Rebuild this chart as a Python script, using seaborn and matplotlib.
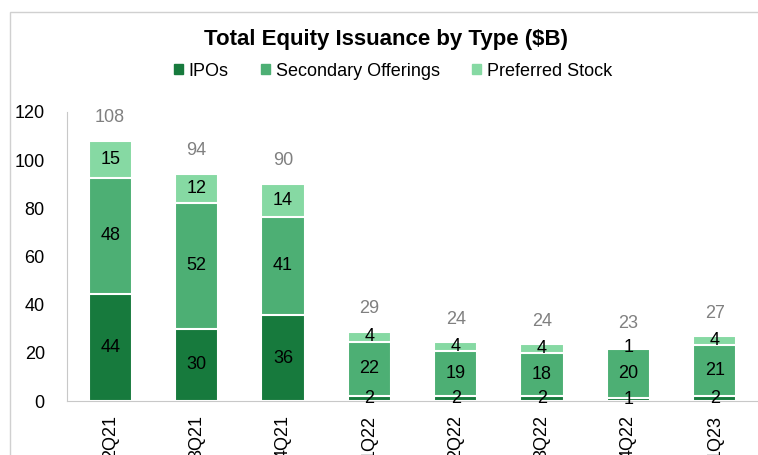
import seaborn as sns
import pandas as pd
import matplotlib.pyplot as plt
from matplotlib.patches import Rectangle, Patch

quarters = ['2Q21', '3Q21', '4Q21', '1Q22', '2Q22', '3Q22', '4Q22', '1Q23']
ipos = [44.4, 29.9, 35.7, 2.1, 2.1, 2.2, 1.2, 2.1]
secondary = [48.4, 52.4, 40.9, 22.4, 18.8, 17.8, 20.4, 21.0]
preferred = [15.2, 12.0, 13.6, 4.3, 3.5, 3.6, 1.0, 3.8]

df = pd.DataFrame({'quarter': quarters, 'IPOs': ipos,
                   'Secondary Offerings': secondary, 'Preferred Stock': preferred})
df['cum_sec'] = df['IPOs'] + df['Secondary Offerings']
df['total'] = df['cum_sec'] + df['Preferred Stock']

c_ipo = '#177A3D'
c_sec = '#4DAF74'
c_pref = '#86D9A3'

sns.set_style('white')
plt.rcParams['font.family'] = ['Liberation Sans', 'DejaVu Sans']
plt.rcParams['text.color'] = 'black'
plt.rcParams['xtick.color'] = 'black'
plt.rcParams['ytick.color'] = 'black'

fig = plt.figure(figsize=(7.58, 4.55), dpi=100)
ax = fig.add_axes([67 / 758, 1 - 401 / 455, 1 - 67 / 758, (401 - 112) / 455])

# layered bars: total, then IPO+secondary, then IPO
bar_kw = dict(width=0.5, edgecolor='white', linewidth=1.5, ax=ax, order=quarters, saturation=1)
sns.barplot(data=df, x='quarter', y='total', color=c_pref, **bar_kw)
sns.barplot(data=df, x='quarter', y='cum_sec', color=c_sec, **bar_kw)
sns.barplot(data=df, x='quarter', y='IPOs', color=c_ipo, **bar_kw)

# segment labels
for i, row in df.iterrows():
    ax.text(i, row['IPOs'] / 2, f"{row['IPOs']:.0f}", ha='center', va='center', fontsize=13)
    ax.text(i, row['IPOs'] + row['Secondary Offerings'] / 2, f"{row['Secondary Offerings']:.0f}",
            ha='center', va='center', fontsize=13)
    ax.text(i, row['cum_sec'] + row['Preferred Stock'] / 2, f"{row['Preferred Stock']:.0f}",
            ha='center', va='center', fontsize=13)
    ax.text(i, row['total'] + 6, f"{row['total']:.0f}", ha='center', va='bottom', fontsize=13, color='#808080')

ax.set_xlim(-0.5, 7.5)
ax.set_ylim(0, 120)
ax.set_yticks(range(0, 121, 20))
ax.set_xlabel('')
ax.set_ylabel('')
ax.tick_params(axis='y', labelsize=13, pad=16, length=0)
ax.tick_params(axis='x', labelsize=13, pad=10, length=0, labelrotation=90)

sns.despine(ax=ax, top=True, right=True)
ax.spines['left'].set_color('#C8C8C8')
ax.spines['bottom'].set_color('#C8C8C8')

handles = [Patch(color=c_ipo), Patch(color=c_sec), Patch(color=c_pref)]
fig.legend(handles, ['IPOs', 'Secondary Offerings', 'Preferred Stock'],
           loc='center', bbox_to_anchor=(393 / 758, 1 - 71 / 455), ncol=3, frameon=False,
           fontsize=13, handlelength=0.5, handleheight=0.5, handletextpad=0.3, columnspacing=1.8)

fig.text(386 / 758, 1 - 40 / 455, 'Total Equity Issuance by Type ($B)', ha='center', va='center',
         fontsize=16, fontweight='bold')

# outer chart frame, cut by the picture edge
fig.patches.append(Rectangle((10 / 758, -0.1), 1.0, 1 - 12 / 455 + 0.1, transform=fig.transFigure,
                             fill=False, edgecolor='#D0D0D0', linewidth=1))

fig.savefig('out.png', dpi=100)
